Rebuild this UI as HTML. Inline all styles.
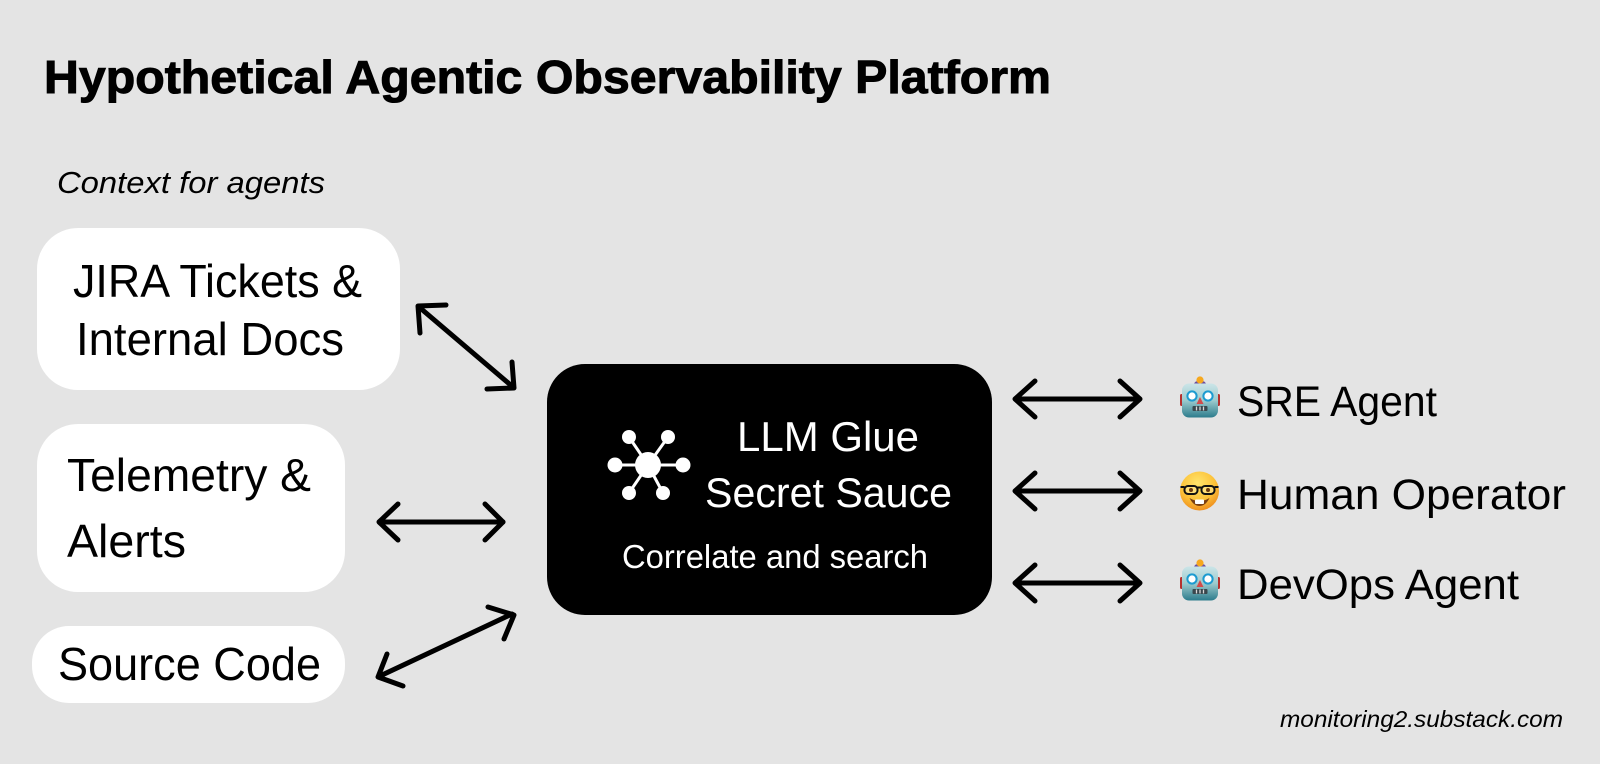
<!DOCTYPE html>
<html lang="en">
<head>
<meta charset="utf-8">
<title>Hypothetical Agentic Observability Platform</title>
<style>
html,body{margin:0;padding:0;background:#e4e4e4;width:1600px;height:764px;overflow:hidden}
svg{display:block}
text{font-family:"Liberation Sans",sans-serif;fill:#000}
.arrow{fill:none;stroke:#000;stroke-width:5;stroke-linecap:round;stroke-linejoin:round}
</style>
</head>
<body>
<svg width="1600" height="764" viewBox="0 0 1600 764" xmlns="http://www.w3.org/2000/svg">
<defs>
<linearGradient id="rb" x1="0" y1="0" x2="0" y2="1"><stop offset="0" stop-color="#cbe5e8"/><stop offset=".5" stop-color="#9ccacd"/><stop offset="1" stop-color="#2c7c8c"/></linearGradient>
<radialGradient id="nf" cx=".45" cy=".3" r=".75"><stop offset="0" stop-color="#ffe56c"/><stop offset=".6" stop-color="#fcc037"/><stop offset="1" stop-color="#ec861a"/></radialGradient>
<g id="robot">
<rect x="-20" y="-6" width="6" height="12" rx="1.500" fill="#b5312f"/>
<rect x="14" y="-6" width="6" height="12" rx="1.500" fill="#b5312f"/>
<path d="M-6-15.500A6 4 0 0 1 6-15.500Z" fill="#6a4fa0"/>
<circle cx="0" cy="-20" r="3.600" fill="#f6a81e"/>
<rect x="-18" y="-16.500" width="36" height="34" rx="7" fill="url(#rb)"/>
<circle cx="-8" cy="-4" r="4.600" fill="#fff" stroke="#1d9bd0" stroke-width="2"/>
<circle cx="8" cy="-4" r="4.600" fill="#fff" stroke="#1d9bd0" stroke-width="2"/>
<path d="M0-3L3.500 4H-3.500Z" fill="#d24b4b"/>
<rect x="-7.500" y="6" width="15" height="5" rx="1" fill="#39474d"/>
<path d="M-3.500 6.500V10.500M0 6.500V10.500M3.500 6.500V10.500" stroke="#d8d8d8" stroke-width="1.300"/>
</g>
</defs>
<rect width="1600" height="764" fill="#e4e4e4"/>

<text x="44" y="93" font-size="46" font-weight="700" stroke="#000" stroke-width="1" textLength="1007" lengthAdjust="spacingAndGlyphs">Hypothetical Agentic Observability Platform</text>
<text x="57" y="193" font-size="31" font-style="italic" textLength="268" lengthAdjust="spacingAndGlyphs">Context for agents</text>

<rect x="37" y="228" width="363" height="162" rx="41" fill="#fff"/>
<rect x="37" y="424" width="308" height="168" rx="41" fill="#fff"/>
<rect x="32" y="626" width="313" height="77" rx="37" fill="#fff"/>
<rect x="547" y="364" width="445" height="251" rx="38" fill="#000"/>

<text x="73" y="297" font-size="46" textLength="289" lengthAdjust="spacingAndGlyphs">JIRA Tickets &amp;</text>
<text x="76" y="355" font-size="46" textLength="268" lengthAdjust="spacingAndGlyphs">Internal Docs</text>
<text x="67" y="491" font-size="46" textLength="244" lengthAdjust="spacingAndGlyphs">Telemetry &amp;</text>
<text x="67" y="557" font-size="46" textLength="119" lengthAdjust="spacingAndGlyphs">Alerts</text>
<text x="58" y="680" font-size="46" textLength="263" lengthAdjust="spacingAndGlyphs">Source Code</text>

<path d="M648 465L629 437M648 465L668 437M648 465H615M648 465H683M648 465L629 493M648 465L663 493" stroke="#fff" stroke-width="3" fill="none"/>
<g fill="#fff">
<circle cx="648" cy="465" r="13"/>
<circle cx="629" cy="437" r="7"/><circle cx="668" cy="437" r="7"/>
<circle cx="615" cy="465" r="7.500"/><circle cx="683" cy="465" r="7.500"/>
<circle cx="629" cy="493" r="7"/><circle cx="663" cy="493" r="7"/>
</g>
<text x="737" y="451" font-size="42" style="fill:#fff" textLength="182" lengthAdjust="spacingAndGlyphs">LLM Glue</text>
<text x="705" y="507" font-size="42" style="fill:#fff" textLength="247" lengthAdjust="spacingAndGlyphs">Secret Sauce</text>
<text x="622" y="568" font-size="33" style="fill:#fff" textLength="306" lengthAdjust="spacingAndGlyphs">Correlate and search</text>

<!-- left connectors -->
<g class="arrow">
<path d="M419 307L513 387"/><path d="M446 305L418 306L420 333"/><path d="M512 362L514 388L487 389"/>
<path d="M380 522H503"/><path d="M398 504L379 522L398 540"/><path d="M485 504L503 522L485 540"/>
<path d="M380 676L512 614"/><path d="M387 654L378 677L403 686"/><path d="M488 607L514 615L504 639"/>
</g>
<!-- right connectors -->
<g class="arrow">
<path d="M1016 399H1139"/><path d="M1035 381L1015 399L1035 417"/><path d="M1120 381L1140 399L1120 417"/>
<path d="M1016 491H1139"/><path d="M1035 473L1015 491L1035 509"/><path d="M1120 473L1140 491L1120 509"/>
<path d="M1016 583H1139"/><path d="M1035 565L1015 583L1035 601"/><path d="M1120 565L1140 583L1120 601"/>
</g>

<use href="#robot" x="1200" y="400"/>
<use href="#robot" x="1200" y="583"/>
<g transform="translate(1199.500 491)">
<circle r="19.500" fill="url(#nf)"/>
<path d="M-10 7Q0 13 10 7Q6 15 0 15Q-6 15-10 7Z" fill="#7a3f12"/>
<rect x="-4.500" y="8.500" width="9" height="4.500" rx="1" fill="#fff"/>
<g fill="#ffe68a" fill-opacity=".7" stroke="#111" stroke-width="2">
<rect x="-15" y="-5" width="13" height="8" rx="3.500"/>
<rect x="2" y="-5" width="13" height="8" rx="3.500"/>
</g>
<path d="M-2-3.500H2M-19-4H-15M15-4H19" stroke="#111" stroke-width="2"/>
<circle cx="-8.500" cy="-1" r="2" fill="#6b3a10"/><circle cx="8.500" cy="-1" r="2" fill="#6b3a10"/>
</g>

<text x="1237" y="416" font-size="43" textLength="200" lengthAdjust="spacingAndGlyphs">SRE Agent</text>
<text x="1237" y="509" font-size="43" textLength="329" lengthAdjust="spacingAndGlyphs">Human Operator</text>
<text x="1237" y="599" font-size="43" textLength="282" lengthAdjust="spacingAndGlyphs">DevOps Agent</text>
<text x="1280" y="727" font-size="23" font-style="italic" textLength="283" lengthAdjust="spacingAndGlyphs">monitoring2.substack.com</text>
</svg>
</body>
</html>
